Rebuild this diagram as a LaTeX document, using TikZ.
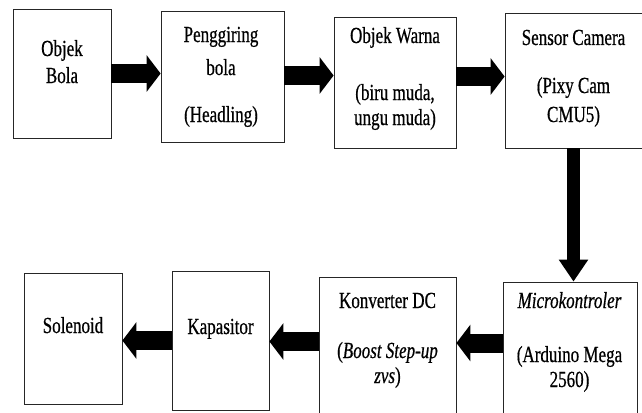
\documentclass[tikz,border=0pt]{standalone}
\usepackage{fontspec}
\setmainfont{Liberation Serif}
\newfontfamily\narrowserif{Liberation Serif}[FakeStretch=0.74, FakeBold=0.6]
\usetikzlibrary{arrows.meta}
\tikzset{
  box/.style={draw=black!85, line width=0.8pt, inner sep=0pt},
  lbl/.style={anchor=base, inner sep=0pt, font=\narrowserif\fontsize{23}{27}\selectfont},
  flow/.style={line width=19pt, -{Triangle[length=14pt,width=36pt]}},
  flowdown/.style={line width=13pt, -{Triangle[length=22pt,width=28pt]}}
}
\begin{document}
\begin{tikzpicture}[x=1pt,y=-1pt]
\useasboundingbox (0,0) rectangle (642,412);
% baris atas
\node[box, minimum width=98pt, minimum height=129pt] (bola) at (62,73.5) {};
\node[box, minimum width=123pt, minimum height=131pt] (giring) at (222.5,76.5) {};
\node[box, minimum width=122pt, minimum height=131pt] (warna) at (395,82.5) {};
\node[box, minimum width=140pt, minimum height=135pt] (sensor) at (575,80.5) {};
% baris bawah
\node[box, minimum width=98pt, minimum height=131pt] (solenoid) at (73,338.5) {};
\node[box, minimum width=97pt, minimum height=139pt] (kapasitor) at (220.5,340.5) {};
\node[box, minimum width=137pt, minimum height=143pt] (konverter) at (387.5,348.5) {};
\node[box, minimum width=134pt, minimum height=138pt] (mikro) at (570,351) {};
% teks
\node[lbl] (bola1) at (62,56) {Objek};
\node[lbl] (bola2) at (62,83) {Bola};
\node[lbl] (giring1) at (221,42) {Penggiring};
\node[lbl] (giring2) at (221,75) {bola};
\node[lbl] (giring3) at (221,122) {(Headling)};
\node[lbl] (warna1) at (395,43) {Objek Warna};
\node[lbl] (warna2) at (395,100) {(biru muda,};
\node[lbl] (warna3) at (395,125) {ungu muda)};
\node[lbl] (sensor1) at (573.5,45) {Sensor Camera};
\node[lbl] (sensor2) at (573.5,93) {(Pixy Cam};
\node[lbl] (sensor3) at (573.5,122) {CMU5)};
\node[lbl] (solenoid1) at (73,333) {Solenoid};
\node[lbl] (kapasitor1) at (220.5,334) {Kapasitor};
\node[lbl] (konverter1) at (387.5,308) {Konverter DC};
\node[lbl] (konverter2) at (387.5,358) {(\textit{Boost Step-up}};
\node[lbl] (konverter3) at (387.5,383) {\textit{zvs})};
\node[lbl] (mikro1) at (569.5,308) {\textit{Microkontroler}};
\node[lbl] (mikro2) at (569.5,362) {(Arduino Mega};
\node[lbl] (mikro3) at (569.5,387) {2560)};
% panah
\draw[flow] (bola.east) -- (bola.east -| giring.west);
\draw[flow] ([yshift=1pt]giring.east) -- ([yshift=1pt]giring.east -| warna.west);
\draw[flow] ([yshift=6pt]warna.east) -- ([yshift=6pt]warna.east -| sensor.west);
\draw[flowdown] ([xshift=-1.5pt]sensor.south) -- ([xshift=-1.5pt]sensor.south |- mikro.north);
\draw[flow] ([yshift=8pt]mikro.west) -- ([yshift=8pt]mikro.west -| konverter.east);
\draw[flow] ([yshift=7pt]konverter.west) -- ([yshift=7pt]konverter.west -| kapasitor.east);
\draw[flow] (kapasitor.west) -- (kapasitor.west -| solenoid.east);
\end{tikzpicture}
\end{document}
